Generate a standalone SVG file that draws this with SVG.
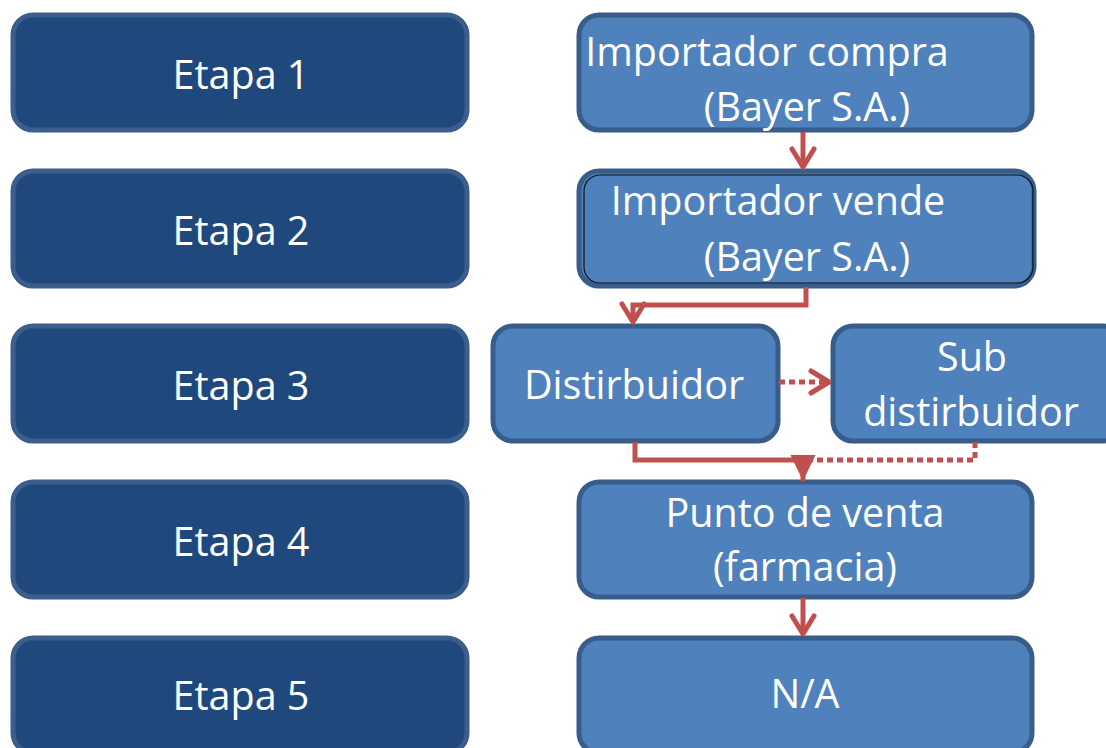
<svg xmlns="http://www.w3.org/2000/svg" width="1106" height="748" viewBox="0 0 1106 748">
<style>
.stage rect{fill:#1f497d;stroke:#3b5e8c;stroke-width:5}
.step rect{fill:#4f81bd;stroke:#385d8a;stroke-width:5}
text{font-family:"Open Sans","Noto Sans","Liberation Sans",sans-serif;font-size:39.5px;fill:#ffffff;text-anchor:middle}
.c{fill:none;stroke:#c0504d;stroke-width:5}
.d{stroke-dasharray:6 4}
</style>
<defs>
<marker id="chev" viewBox="-22 -15 26 30" refX="0" refY="0" markerWidth="26" markerHeight="30" markerUnits="userSpaceOnUse" orient="auto">
<path d="M-18,-11 L0,0 L-18,11" fill="none" stroke="#c0504d" stroke-width="5" stroke-linecap="round" stroke-linejoin="round"/>
</marker>
<marker id="tri" viewBox="-28 -15 30 30" refX="0" refY="0" markerWidth="30" markerHeight="30" markerUnits="userSpaceOnUse" orient="auto">
<path d="M-26,-12.5 L0,0 L-26,12.5 Z" fill="#c0504d"/>
</marker>
</defs>
<g id="etapa1" class="stage"><rect x="13" y="15" width="454" height="115" rx="20"/><text x="241" y="89">Etapa 1</text></g>
<g id="etapa2" class="stage"><rect x="13" y="171" width="454" height="115" rx="20"/><text x="241" y="245">Etapa 2</text></g>
<g id="etapa3" class="stage"><rect x="13" y="326" width="454" height="115" rx="20"/><text x="241" y="400">Etapa 3</text></g>
<g id="etapa4" class="stage"><rect x="13" y="482" width="454" height="115" rx="20"/><text x="241" y="556">Etapa 4</text></g>
<g id="etapa5" class="stage"><rect x="13" y="638" width="454" height="115" rx="20"/><text x="241" y="710">Etapa 5</text></g>

<g id="importador-compra" class="step"><rect x="579" y="15" width="453" height="115" rx="20"/><text x="767" y="66">Importador compra</text><text x="807" y="121">(Bayer S.A.)</text></g>
<g id="importador-vende" class="step"><rect x="579" y="171" width="455" height="115" rx="20"/><rect x="584" y="175" width="449" height="108" rx="16" style="fill:none;stroke:#111;stroke-width:1.2"/><text x="778" y="215">Importador vende</text><text x="807" y="271">(Bayer S.A.)</text></g>
<g id="distribuidor" class="step"><rect x="493" y="326" width="285" height="115" rx="20"/><text x="634" y="399">Distirbuidor</text></g>
<g id="subdistribuidor" class="step"><rect x="833" y="326" width="290" height="115" rx="20"/><text x="972" y="371">Sub</text><text x="971" y="426">distirbuidor</text></g>
<g id="punto-venta" class="step"><rect x="579" y="482" width="453" height="115" rx="20"/><text x="805" y="527">Punto de venta</text><text x="805" y="581">(farmacia)</text></g>
<g id="na" class="step"><rect x="579" y="638" width="453" height="115" rx="20"/><text x="805" y="708">N/A</text></g>

<g id="connectors">
<path class="c" d="M803,132 V167" marker-end="url(#chev)"/>
<path class="c" d="M806,287 V305 H633 V322" marker-end="url(#chev)"/>
<path class="c d" d="M779,382 H829" marker-end="url(#chev)"/>
<path class="c d" d="M975,442 V460 H812"/>
<path class="c" d="M635,442 V460 H803 V468"/>
<path class="c" d="M803,466 V481" marker-end="url(#tri)"/>
<path class="c" d="M803,598 V634" marker-end="url(#chev)"/>
</g>
</svg>
